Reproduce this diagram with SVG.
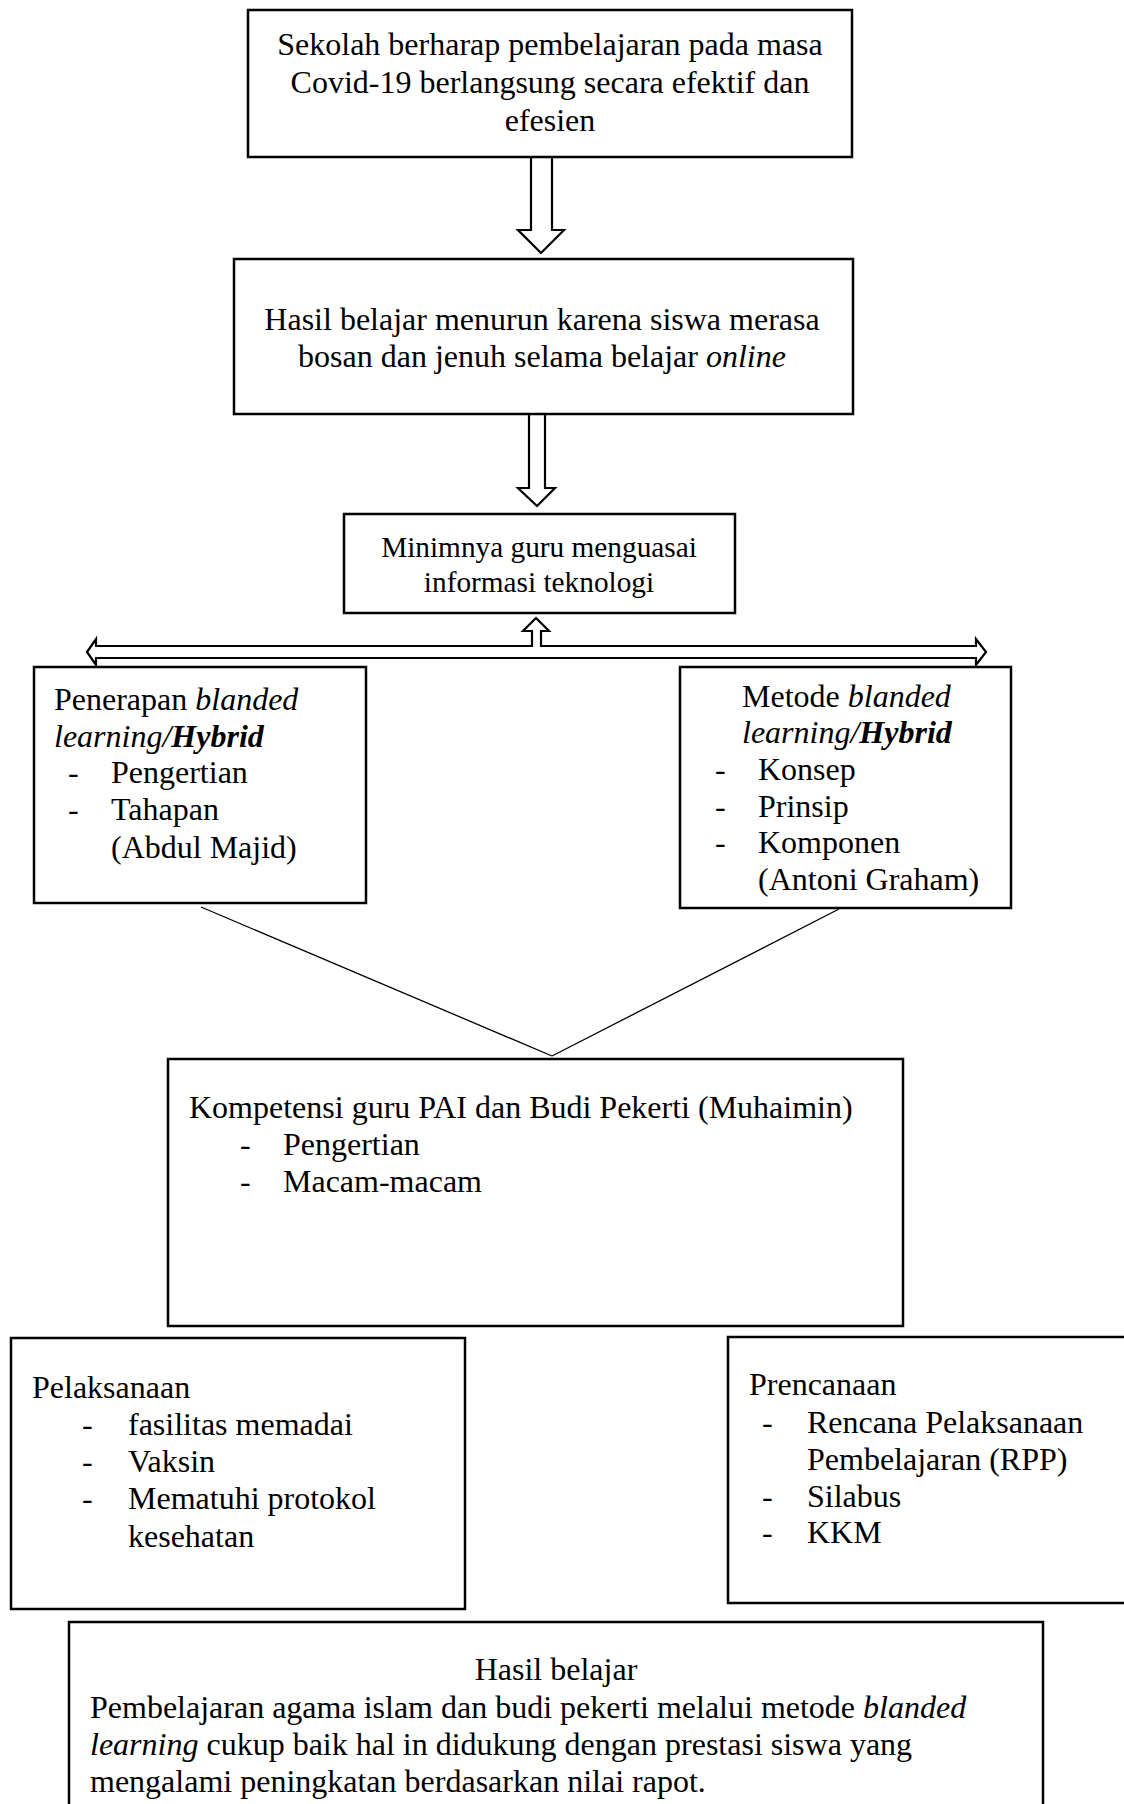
<svg xmlns="http://www.w3.org/2000/svg" width="1124" height="1804" viewBox="0 0 1124 1804">
<style>
.box{fill:#fff;stroke:#000;stroke-width:2.5}
.t{font-family:"Liberation Serif","Times New Roman",serif;font-size:32px;fill:#000}
.s{font-size:29.3px}
.c{text-anchor:middle}
.i{font-style:italic}
.bi{font-style:italic;font-weight:bold}
.arr{fill:#fff;stroke:#000;stroke-width:2.2;stroke-linejoin:miter}
.ln{fill:none;stroke:#000;stroke-width:1.3}
</style>
<rect width="1124" height="1804" fill="#fff"/>
<g id="connectors">
<path class="arr" d="M531,157 V230 H518 L541,253 L564,230 H552 V157"/>
<path class="arr" d="M529,414 V488 H518 L537,506 L555,488 H545 V414"/>
<path class="arr" d="M87,652 L96,639 V646 H532 V631 H523 L536,618 L549,631 H541 V646 H976 V639 L986,652 L976,665 V658 H96 V665 Z"/>
<line class="ln" x1="201" y1="907" x2="552" y2="1056"/>
<line class="ln" x1="839" y1="909" x2="552" y2="1056"/>
</g>
<g id="n1">
<rect class="box" x="248" y="10" width="604" height="147"/>
<text class="t c" x="550" y="55">Sekolah berharap pembelajaran pada masa</text>
<text class="t c" x="550" y="93">Covid-19 berlangsung secara efektif dan</text>
<text class="t c" x="550" y="131">efesien</text>
</g>
<g id="n2">
<rect class="box" x="234" y="259" width="619" height="155"/>
<text class="t c" x="542" y="330">Hasil belajar menurun karena siswa merasa</text>
<text class="t c" x="542" y="367">bosan dan jenuh selama belajar <tspan class="i">online</tspan></text>
</g>
<g id="n3">
<rect class="box" x="344" y="514" width="391" height="99"/>
<text class="t s c" x="539" y="557">Minimnya guru menguasai</text>
<text class="t s c" x="539" y="592">informasi teknologi</text>
</g>
<g id="n4">
<rect class="box" x="34" y="667" width="332" height="236"/>
<text class="t" x="54" y="710">Penerapan <tspan class="i">blanded</tspan></text>
<text class="t" x="54" y="747"><tspan class="i">learning/</tspan><tspan class="bi">Hybrid</tspan></text>
<text class="t" x="68" y="783">-</text><text class="t" x="111" y="783">Pengertian</text>
<text class="t" x="68" y="820">-</text><text class="t" x="111" y="820">Tahapan</text>
<text class="t" x="111" y="858">(Abdul Majid)</text>
</g>
<g id="n5">
<rect class="box" x="680" y="667" width="331" height="241"/>
<text class="t" x="742" y="707">Metode <tspan class="i">blanded</tspan></text>
<text class="t" x="742" y="743"><tspan class="i">learning/</tspan><tspan class="bi">Hybrid</tspan></text>
<text class="t" x="715" y="780">-</text><text class="t" x="758" y="780">Konsep</text>
<text class="t" x="715" y="817">-</text><text class="t" x="758" y="817">Prinsip</text>
<text class="t" x="715" y="853">-</text><text class="t" x="758" y="853">Komponen</text>
<text class="t" x="758" y="890">(Antoni Graham)</text>
</g>
<g id="n6">
<rect class="box" x="168" y="1059" width="735" height="267"/>
<text class="t" x="189" y="1118">Kompetensi guru PAI dan Budi Pekerti (Muhaimin)</text>
<text class="t" x="240" y="1155">-</text><text class="t" x="283" y="1155">Pengertian</text>
<text class="t" x="240" y="1192">-</text><text class="t" x="283" y="1192">Macam-macam</text>
</g>
<g id="n7">
<rect class="box" x="11" y="1338" width="454" height="271"/>
<text class="t" x="32" y="1398">Pelaksanaan</text>
<text class="t" x="82" y="1435">-</text><text class="t" x="128" y="1435">fasilitas memadai</text>
<text class="t" x="82" y="1472">-</text><text class="t" x="128" y="1472">Vaksin</text>
<text class="t" x="82" y="1509">-</text><text class="t" x="128" y="1509">Mematuhi protokol</text>
<text class="t" x="128" y="1547">kesehatan</text>
</g>
<g id="n8">
<rect class="box" x="728" y="1337" width="410" height="266"/>
<text class="t" x="749" y="1395">Prencanaan</text>
<text class="t" x="762" y="1433">-</text><text class="t" x="807" y="1433">Rencana Pelaksanaan</text>
<text class="t" x="807" y="1470">Pembelajaran (RPP)</text>
<text class="t" x="762" y="1507">-</text><text class="t" x="807" y="1507">Silabus</text>
<text class="t" x="762" y="1543">-</text><text class="t" x="807" y="1543">KKM</text>
</g>
<g id="n9">
<rect class="box" x="69" y="1622" width="974" height="200"/>
<text class="t c" x="556" y="1680">Hasil belajar</text>
<text class="t" x="90" y="1718">Pembelajaran agama islam dan budi pekerti melalui metode <tspan class="i">blanded</tspan></text>
<text class="t" x="90" y="1755"><tspan class="i">learning</tspan> cukup baik hal in didukung dengan prestasi siswa yang</text>
<text class="t" x="90" y="1792">mengalami peningkatan berdasarkan nilai rapot.</text>
</g>
</svg>
